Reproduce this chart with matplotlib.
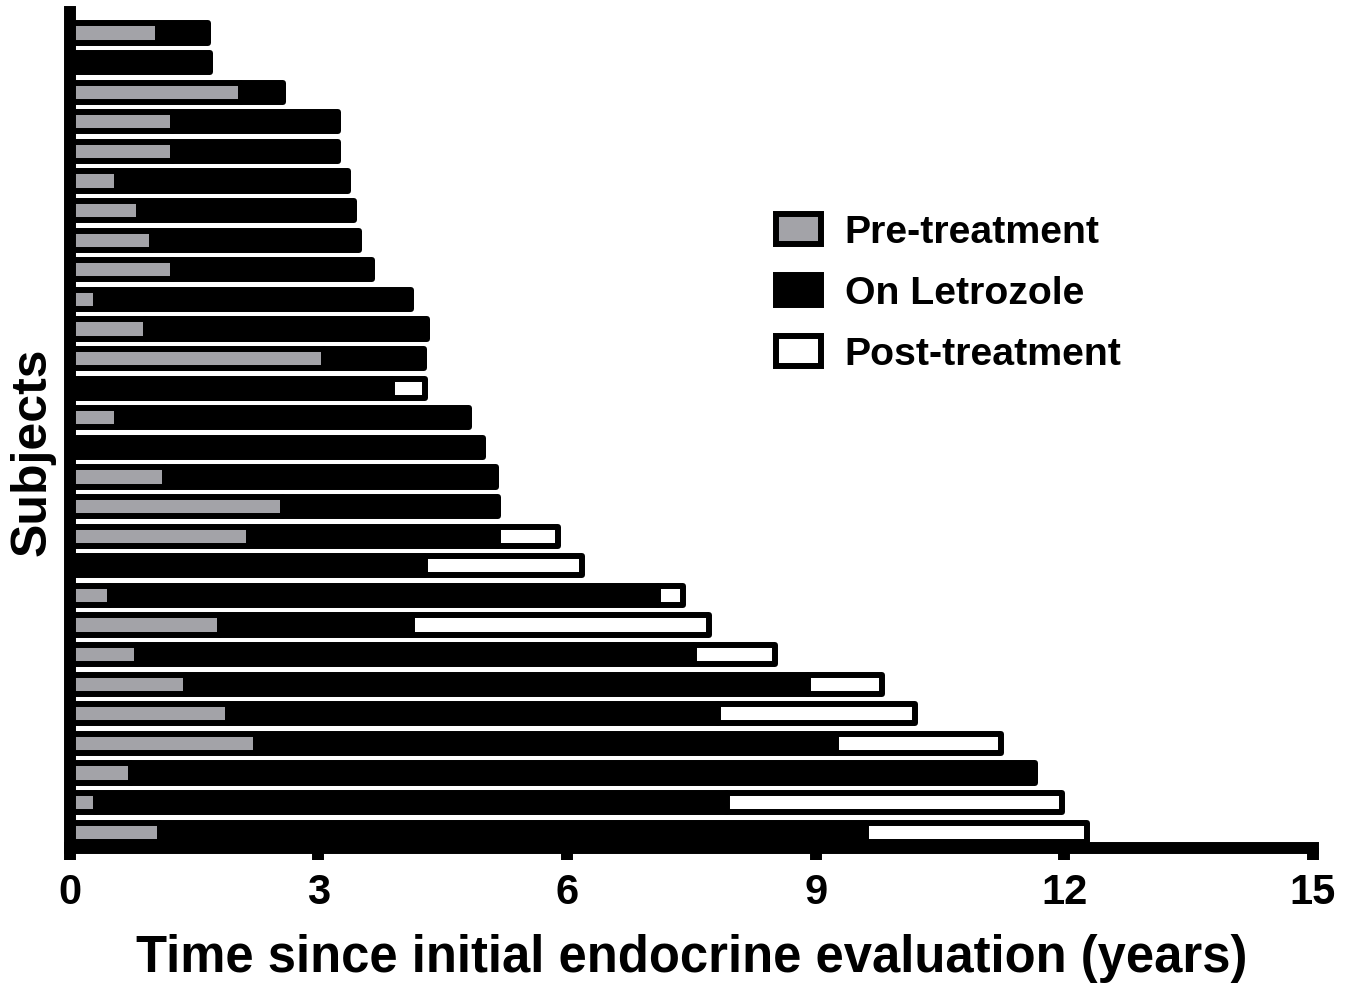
import matplotlib.pyplot as plt
from matplotlib.patches import Patch
import numpy as np

plt.rcParams['font.family'] = ['Liberation Sans', 'DejaVu Sans']
plt.rcParams['font.weight'] = 'bold'

# Time points per subject (years), top to bottom
pre_end = [1.07, 0.0, 2.07, 1.25, 1.25, 0.57, 0.84, 1.00, 1.25, 0.32,
           0.92, 3.07, 0.0, 0.57, 0.0, 1.15, 2.58, 2.17, 0.0, 0.49,
           1.82, 0.81, 1.41, 1.91, 2.25, 0.74, 0.32, 1.09]
letrozole_end = [1.67, 1.69, 2.58, 3.24, 3.24, 3.36, 3.43, 3.49, 3.65, 4.12,
                 4.31, 4.28, 3.89, 4.82, 4.99, 5.14, 5.17, 5.17, 4.29, 7.10,
                 4.13, 7.53, 8.91, 7.82, 9.25, 11.65, 7.93, 9.61]
followup_end = [1.67, 1.69, 2.58, 3.24, 3.24, 3.36, 3.43, 3.49, 3.65, 4.12,
                4.31, 4.28, 4.29, 4.82, 4.99, 5.14, 5.17, 5.89, 6.18, 7.40,
                7.71, 8.51, 9.80, 10.20, 11.24, 11.65, 11.97, 12.27]

pre_end = np.array(pre_end)
letrozole_end = np.array(letrozole_end)
followup_end = np.array(followup_end)
y = np.arange(len(pre_end))

gray = '#a3a3a8'
lw = 4.3
h = 0.65

fig = plt.figure(figsize=(13.55, 9.84), dpi=100)
ax = fig.add_axes([0.0513, 0.1387, 0.9177, 0.8491])

ax.barh(y, pre_end, height=h, left=0, color=gray, edgecolor='black',
        linewidth=lw, joinstyle='round')
ax.barh(y, letrozole_end - pre_end, height=h, left=pre_end, color='black',
        edgecolor='black', linewidth=lw, joinstyle='round')
ax.barh(y, followup_end - letrozole_end, height=h, left=letrozole_end,
        color='white', edgecolor='black', linewidth=lw, joinstyle='round')

ax.set_xlim(0, 15)
ax.set_ylim(len(y) - 1 + 0.52, -0.71)
ax.set_xticks([0, 3, 6, 9, 12, 15])
ax.set_yticks([])
ax.tick_params(axis='x', direction='out', length=8.3, width=8.6, pad=10,
               labelsize=30)
for lbl in ax.get_xticklabels():
    lbl.set_fontweight('bold')

for s in ['top', 'right']:
    ax.spines[s].set_visible(False)
for s in ['left', 'bottom']:
    ax.spines[s].set_linewidth(8.6)

fig.text(0.5103, 0.0122, 'Time since initial endocrine evaluation (years)',
         ha='center', va='baseline', fontsize=36.5, fontweight='bold')
fig.text(33 / 1355, 1 - 452 / 984, 'Subjects', rotation=90, ha='center',
         va='center', fontsize=36, fontweight='bold')

handles = [Patch(facecolor=gray, edgecolor='black', linewidth=lw, label='Pre-treatment'),
           Patch(facecolor='black', edgecolor='black', linewidth=lw, label='On Letrozole'),
           Patch(facecolor='white', edgecolor='black', linewidth=lw, label='Post-treatment')]
leg = ax.legend(handles=handles, loc='upper left', bbox_to_anchor=(776 / 1355, 1 - 214 / 984),
                bbox_transform=fig.transFigure, frameon=False, fontsize=28.3,
                handlelength=1.15, handleheight=0.8, labelspacing=0.62,
                handletextpad=0.6, borderaxespad=0, borderpad=0)
for t in leg.get_texts():
    t.set_fontweight('bold')

fig.savefig('out.png', dpi=100)
